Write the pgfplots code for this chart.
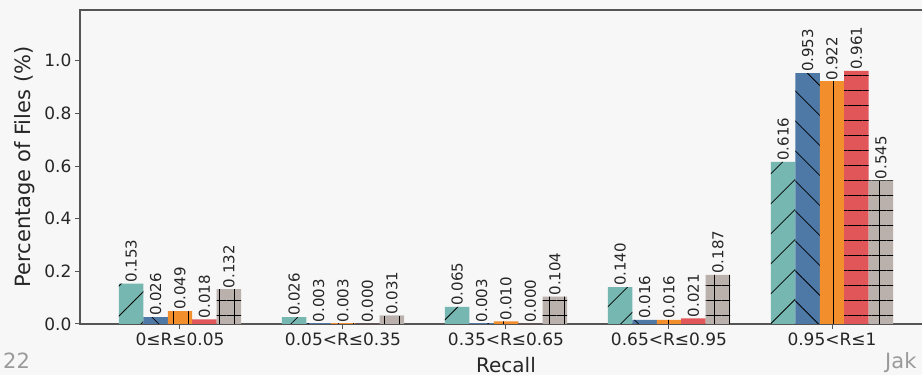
\documentclass[border=0pt]{standalone}
\usepackage{fontspec}
\setmainfont{DejaVu Sans}
\usepackage{pgfplots}
\usepackage{pgfplotstable}
\pgfplotsset{compat=1.18}
\usetikzlibrary{patterns.meta}
\definecolor{bg}{HTML}{F7F7F7}
\definecolor{cteal}{HTML}{76B7B2}
\definecolor{cblue}{HTML}{4E79A7}
\definecolor{corange}{HTML}{F28E2B}
\definecolor{cred}{HTML}{E15759}
\definecolor{cgray}{HTML}{BAB0AC}
\definecolor{spine}{HTML}{555555}
\definecolor{slide}{HTML}{9A9A9A}

\pgfplotstableread{
x a b c d e
0 0.153 0.026 0.049 0.018 0.132
1 0.026 0.003 0.003 0.000 0.031
2 0.065 0.003 0.010 0.000 0.104
3 0.140 0.016 0.016 0.021 0.187
4 0.616 0.953 0.922 0.961 0.545
}\data

\begin{document}
\begin{tikzpicture}
\fill[bg] (-80pt,-51pt) rectangle (842pt,324pt);
\begin{axis}[
  at={(0,0)}, anchor=south west,
  scale only axis, width=852pt, height=314pt,
  xmin=-0.6135, xmax=4.6135, ymin=0, ymax=1.1925,
  ybar, bar width=0.15,
  axis line style={spine, line width=1.1pt},
  tick style={spine, line width=1pt},
  major tick length=5pt, tick align=outside, tick pos=left,
  xtick={0,1,2,3,4},
  xticklabels={0≤R≤0.05, 0.05<R≤0.35, 0.35<R≤0.65, 0.65<R≤0.95, 0.95<R≤1},
  ytick={0,0.2,0.4,0.6,0.8,1.0},
  yticklabel style={/pgf/number format/.cd, fixed, fixed zerofill, precision=1, assume math mode=true},
  ticklabel style={font=\fontsize{17}{20}\selectfont, text=black!85},
  xlabel={Recall}, ylabel={Percentage of Files (\%)},
  every axis x label/.style={at={(axis description cs:0.5,-0.1529)}, anchor=base, font=\fontsize{20}{24}\selectfont, text=black!85},
  every axis y label/.style={at={(axis description cs:-0.0646,0.5)}, rotate=90, anchor=center, font=\fontsize{21}{25}\selectfont, text=black!85},
  nodes near coords={\pgfmathprintnumber[fixed,fixed zerofill,precision=3,assume math mode=true]{\pgfplotspointmeta}},
  every node near coord/.append style={rotate=90, anchor=west, inner sep=1pt, font=\fontsize{15}{18}\selectfont, text=black!85},
  axis background/.style={fill=bg},
]
\addplot[bar shift=-0.3, fill=cteal, draw=none, postaction={pattern={Lines[angle=45,distance=21.2pt,line width=0.8pt]}, pattern color=black}] table[x=x,y=a]{\data};
\addplot[bar shift=-0.15, fill=cblue, draw=none, postaction={pattern={Lines[angle=-45,distance=21.2pt,line width=0.8pt]}, pattern color=black}] table[x=x,y=b]{\data};
\addplot[bar shift=0, fill=corange, draw=none, postaction={pattern={Lines[angle=90,distance=15pt,line width=0.8pt,xshift=8pt]}, pattern color=black}] table[x=x,y=c]{\data};
\addplot[bar shift=0.15, fill=cred, draw=none, postaction={pattern={Lines[angle=0,distance=15pt,line width=0.8pt]}, pattern color=black}] table[x=x,y=d]{\data};
\addplot[bar shift=0.3, fill=cgray, draw=none, postaction={pattern={Hatch[angle=0,distance=15pt,line width=0.8pt,xshift=9pt]}, pattern color=black}] table[x=x,y=e]{\data};
\end{axis}
\node[anchor=base west, inner sep=0pt, text=slide, font=\fontsize{21}{25}\selectfont] at (-77pt,-45pt) {22};
\node[anchor=base west, inner sep=0pt, text=slide, font=\fontsize{21}{25}\selectfont] at (805pt,-45pt) {Jak};
\pgfresetboundingbox
\path (-80pt,-51pt) rectangle (842pt,324pt);
\end{tikzpicture}
\end{document}
